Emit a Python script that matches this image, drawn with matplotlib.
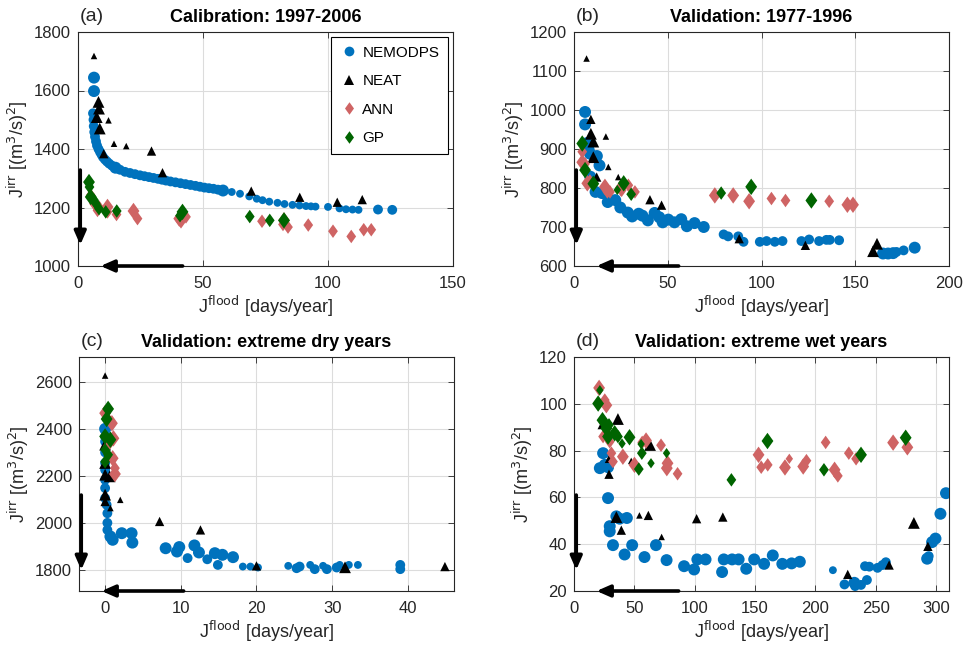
import matplotlib
matplotlib.use("Agg")
import matplotlib.pyplot as plt
from matplotlib.lines import Line2D
from matplotlib.path import Path
import numpy as np

plt.rcParams['font.family'] = ['Liberation Sans', 'DejaVu Sans']

# ---------------- data ----------------
# size codes: 1 small, 2 medium, 3 large
# Panel (a) Calibration 1997-2006
a_nemo_x = [6.4, 6.4, 6.0, 6.2, 6.3, 6.5, 6.8, 7.2, 7.6, 8.2, 8.8, 9.4, 10.0, 10.8, 11.6, 12.5, 13.6, 15.0,
            16.8, 18.8, 20.8, 22.8, 24.8, 26.6, 28.4, 30.2, 32.0, 33.6, 35.2, 37.0, 39.0, 41.0, 43.0, 45.0,
            47.0, 48.8, 50.6, 52.4, 54.2, 56.0, 58.0, 61.5, 64.8, 68.5, 71.5, 73.8, 76.5, 79.8, 82.6, 85.8,
            88.6, 91.2, 93.2, 95.0, 100.0, 104.6, 107.2, 109.8, 112.2, 120.0, 125.7]
a_nemo_y = [1644, 1598, 1522, 1500, 1478, 1458, 1442, 1426, 1412, 1400, 1390, 1381, 1372, 1364, 1357, 1350,
            1343, 1336, 1329, 1322, 1318, 1314, 1310, 1307, 1304, 1301, 1298, 1295, 1292, 1289, 1286, 1283,
            1280, 1277, 1274, 1271, 1268, 1266, 1264, 1261, 1258, 1253, 1247, 1238, 1230, 1225, 1220, 1216,
            1212, 1209, 1207, 1205, 1204, 1203, 1202, 1197, 1194, 1193, 1192, 1193, 1192]
a_nemo_c = [3, 3] + [2] * 15 + [3] + [2] * 22 + [3] + [1] * 18 + [2, 2]

a_neat_x = [6.4, 8.2, 8.4, 7.5, 8.7, 12.2, 14.4, 19.3, 29.4, 33.8, 10.3, 69.3, 88.7, 103.7, 113.7]
a_neat_y = [1718, 1561, 1538, 1509, 1470, 1498, 1418, 1410, 1393, 1319, 1384, 1256, 1235, 1218, 1227]
a_neat_c = [1, 3, 3, 3, 3, 1, 1, 1, 2, 2, 2, 2, 2, 2, 2]

a_ann_x = [5.1, 6.4, 7.8, 8.4, 11.8, 11.8, 15.4, 22.2, 23.8, 40.5, 41.2, 43.2, 73.6, 82.0, 84.0, 92.1,
           102.0, 109.3, 114.3, 117.3, 82.4]
a_ann_y = [1242, 1213, 1190, 1202, 1202, 1185, 1176, 1188, 1162, 1162, 1156, 1168, 1153, 1142, 1133, 1140,
           1119, 1101, 1124, 1124, 1156]
a_ann_c = [2, 2, 2, 2, 3, 2, 2, 3, 2, 3, 3, 2, 2, 2, 2, 2, 2, 2, 2, 2, 3]

a_gp_x = [4.4, 4.6, 5.1, 6.4, 7.1, 8.4, 11.1, 15.5, 41.8, 40.8, 68.7, 76.7, 82.4]
a_gp_y = [1287, 1270, 1236, 1225, 1214, 1196, 1185, 1188, 1185, 1172, 1169, 1156, 1156]
a_gp_c = [3, 2, 3, 2, 2, 2, 2, 2, 3, 2, 2, 2, 3]

# Panel (b) Validation 1977-1996
b_nemo_x = [5.9, 5.9, 6.8, 7.8, 8.5, 12.2, 13.6, 8.7, 11.5, 14.9, 18.0, 22.0, 24.7, 28.7, 31.0, 34.5, 36.5,
            39.4, 43.0, 45.5, 47.3, 50.3, 53.6, 57.2, 60.2, 64.3, 69.2, 79.8, 82.2, 87.6, 90.4, 99.1, 102.7,
            107.1, 111.2, 121.3, 125.4, 130.7, 134.6, 136.4, 141.4, 164.8, 167.5, 170.2, 172.0, 175.8, 181.7]
b_nemo_y = [995, 963, 915, 898, 888, 882, 858, 829, 790, 787, 764, 769, 750, 737, 727, 734, 729, 717, 736,
            725, 712, 719, 712, 720, 702, 710, 700, 681, 676, 676, 662, 662, 664, 662, 664, 664, 668, 664, 667,
            667, 666, 632, 632, 633, 636, 640, 647]
b_nemo_c = [3] * 27 + [2] * 14 + [3, 3, 3, 2, 2, 3]

b_neat_x = [6.7, 9.0, 9.0, 10.3, 10.3, 17.0, 12.1, 18.3, 23.6, 40.5, 46.7, 88.1, 123.4, 161.6, 159.5]
b_neat_y = [1132, 976, 939, 919, 879, 932, 828, 854, 828, 770, 756, 670, 653, 657, 638]
b_neat_c = [1, 2, 3, 3, 3, 1, 2, 1, 1, 2, 2, 2, 2, 3, 3]

b_ann_x = [4.4, 4.4, 5.9, 7.1, 8.5, 16.5, 17.8, 19.2, 24.9, 25.4, 29.0, 32.5, 75.1, 84.9, 93.4, 105.3,
           112.8, 136.1, 145.8, 148.8]
b_ann_y = [893, 866, 862, 812, 818, 803, 790, 790, 800, 794, 807, 790, 781, 781, 766, 773, 768, 766, 757, 757]
b_ann_c = [2, 3, 2, 3, 2, 3, 2, 2, 3, 2, 2, 2, 3, 3, 3, 2, 2, 2, 3, 3]

b_gp_x = [4.4, 5.9, 10.3, 23.1, 26.5, 30.5, 78.5, 94.5, 126.6]
b_gp_y = [914, 846, 811, 795, 812, 784, 787, 803, 768]
b_gp_c = [3, 3, 3, 1, 3, 2, 2, 3, 3]

# Panel (c) Validation: extreme dry years
c_nemo_x = [0.0, 0.0, 0.0, 0.0, 0.0, 0.0, 0.0, 0.0, 0.0, 0.2, 0.3, 0.3, 0.3, 0.7, 1.0, 2.2, 3.5, 3.6, 8.0,
            9.8, 9.5, 10.9, 11.8, 12.4, 13.5, 14.5, 14.9, 15.5, 16.9, 18.2, 19.2, 20.2, 24.2, 25.3, 25.7,
            27.1, 27.7, 28.8, 29.3, 30.6, 31.0, 32.2, 33.4, 39.0, 39.0]
c_nemo_y = [2400, 2367, 2346, 2300, 2255, 2226, 2183, 2148, 2105, 2077, 2041, 2000, 1970, 1942, 1928, 1956,
            1956, 1916, 1892, 1897, 1878, 1850, 1904, 1874, 1845, 1871, 1821, 1864, 1854, 1814, 1814, 1810,
            1817, 1807, 1814, 1821, 1803, 1817, 1803, 1810, 1821, 1821, 1821, 1821, 1803]
c_nemo_c = [3] + [2] * 12 + [3] * 8 + [2, 3, 3, 2, 3, 2, 3, 3, 1, 1, 1, 1, 2, 2, 1, 2, 1, 2, 2, 1, 1, 1, 2, 2]

c_neat_x = [0.0, 0.0, 0.0, 0.0, 0.6, 0.0, 0.0, 0.7, 2.0, 7.2, 12.6, 20.0, 31.7, 44.9]
c_neat_y = [2627, 2333, 2255, 2205, 2198, 2120, 2091, 2063, 2098, 2006, 1970, 1817, 1811, 1814]
c_neat_c = [1, 3, 3, 3, 3, 3, 2, 1, 1, 2, 2, 2, 3, 2]

c_ann_x = [0.0, 0.2, 0.9, 1.1, 0.4, 1.0, 1.3, 1.3]
c_ann_y = [2467, 2450, 2424, 2360, 2330, 2275, 2233, 2208]
c_ann_c = [3, 2, 3, 3, 2, 3, 2, 3]

c_gp_x = [0.4, 0.2, 0.0, 0.7, 0.0, 0.4, 0.0]
c_gp_y = [2485, 2442, 2368, 2354, 2311, 2290, 2260]
c_gp_c = [3, 3, 3, 3, 2, 2, 2]

# Panel (d) Validation: extreme wet years
d_nemo_x = [21.4, 24.1, 25.5, 28.2, 28.2, 29.6, 29.6, 35.1, 37.8, 43.8, 32.3, 41.9, 48.2, 58.4, 67.9, 76.7,
            91.2, 99.5, 102.2, 109.0, 122.7, 124.1, 131.0, 136.4, 142.7, 149.3, 157.5, 164.7, 172.6, 180.3,
            187.1, 214.5, 224.1, 232.3, 232.9, 237.8, 242.7, 241.1, 244.7, 251.5, 255.6, 258.4, 292.6, 293.9,
            296.7, 299.5, 303.6, 308.2]
d_nemo_y = [72.5, 78.9, 73.9, 72.9, 59.7, 47.7, 45.5, 51.9, 50.9, 51.2, 39.6, 35.6, 39.6, 34.5, 39.6, 33.2,
            30.6, 29.2, 33.5, 33.5, 28.1, 33.5, 33.5, 33.5, 29.5, 33.5, 31.6, 35.2, 31.6, 31.8, 32.5, 28.9,
            22.8, 23.5, 22.1, 22.6, 24.7, 30.6, 30.4, 29.9, 31.1, 32.3, 33.8, 34.9, 40.9, 42.4, 53.0, 61.8]
d_nemo_c = [3] * 31 + [1, 2, 3, 2, 2, 2, 2, 2, 2, 2, 2, 3, 2, 3, 3, 3, 3]

d_neat_x = [22.2, 36.4, 30.4, 29.0, 35.1, 39.2, 47.4, 54.2, 61.6, 63.0, 72.6, 101.6, 123.3, 226.8, 261.1,
            281.6, 293.2]
d_neat_y = [90.5, 93.5, 77.2, 69.9, 51.6, 46.0, 75.6, 52.3, 52.3, 82.4, 43.1, 50.9, 51.6, 27.1, 31.1, 49.1, 39.1]
d_neat_c = [1, 3, 3, 2, 3, 2, 1, 1, 2, 3, 1, 2, 2, 2, 2, 3, 2]

d_ann_x = [20.8, 25.5, 26.8, 24.1, 29.6, 31.0, 32.3, 40.5, 50.1, 59.7, 56.5, 72.1, 77.5, 76.9, 85.8, 152.9,
           155.1, 160.5, 174.8, 178.4, 189.9, 192.6, 208.5, 215.9, 218.6, 227.7, 233.7, 264.4, 276.2]
d_ann_y = [106.8, 101.6, 99.4, 86.0, 83.8, 78.9, 75.3, 77.4, 73.9, 84.3, 83.5, 82.3, 74.6, 72.5, 70.1, 78.2,
           72.9, 73.9, 72.8, 76.5, 73.2, 75.7, 83.5, 71.8, 69.2, 78.9, 76.5, 83.4, 81.4]
d_ann_c = [3, 2, 3, 2, 2, 2, 2, 3, 3, 3, 2, 2, 3, 3, 2, 3, 2, 2, 3, 1, 3, 2, 2, 3, 2, 2, 2, 3, 3]

d_gp_x = [20.0, 21.4, 23.6, 26.8, 28.2, 29.0, 33.7, 36.4, 46.0, 55.6, 56.2, 53.7, 63.8, 76.7, 39.8, 130.4,
          160.3, 207.1, 237.8, 274.8]
d_gp_y = [100.1, 105.8, 93.0, 89.5, 86.0, 91.0, 87.4, 86.0, 85.7, 82.8, 78.9, 72.1, 74.6, 78.9, 83.0, 67.5,
          84.1, 71.8, 78.2, 85.5]
d_gp_c = [3, 1, 3, 3, 3, 2, 3, 2, 3, 1, 2, 2, 1, 1, 1, 2, 3, 2, 3, 3]

titles = ['Calibration: 1997-2006', 'Validation: 1977-1996',
          'Validation: extreme dry years', 'Validation: extreme wet years']
panel_tags = ['(a)', '(b)', '(c)', '(d)']
series_names = ['NEMODPS', 'NEAT', 'ANN', 'GP']

# ---------------- style ----------------
C_BLUE = '#0072BD'
C_PINK = '#CF6464'
C_GREEN = '#006400'
AX_COL = '#262626'

DIAMOND = Path([(0, -1), (0.72, 0), (0, 1), (-0.72, 0), (0, -1)],
               [Path.MOVETO, Path.LINETO, Path.LINETO, Path.LINETO, Path.CLOSEPOLY])

styles = {
    'NEMODPS': dict(marker='o', color=C_BLUE, sizes={1: 32, 2: 50, 3: 74}),
    'NEAT': dict(marker='^', color='k', sizes={1: 22, 2: 45, 3: 72}),
    'ANN': dict(marker=DIAMOND, color=C_PINK, sizes={1: 55, 2: 95, 3: 140}),
    'GP': dict(marker=DIAMOND, color=C_GREEN, sizes={1: 55, 2: 95, 3: 140}),
}

panels = [
    dict(data={'NEMODPS': (a_nemo_x, a_nemo_y, a_nemo_c), 'NEAT': (a_neat_x, a_neat_y, a_neat_c),
               'ANN': (a_ann_x, a_ann_y, a_ann_c), 'GP': (a_gp_x, a_gp_y, a_gp_c)},
         xlim=(0, 150), ylim=(1000, 1800), xticks=[0, 50, 100, 150], yticks=[1000, 1200, 1400, 1600, 1800]),
    dict(data={'NEMODPS': (b_nemo_x, b_nemo_y, b_nemo_c), 'NEAT': (b_neat_x, b_neat_y, b_neat_c),
               'ANN': (b_ann_x, b_ann_y, b_ann_c), 'GP': (b_gp_x, b_gp_y, b_gp_c)},
         xlim=(0, 200), ylim=(600, 1200), xticks=[0, 50, 100, 150, 200],
         yticks=[600, 700, 800, 900, 1000, 1100, 1200]),
    dict(data={'NEMODPS': (c_nemo_x, c_nemo_y, c_nemo_c), 'NEAT': (c_neat_x, c_neat_y, c_neat_c),
               'ANN': (c_ann_x, c_ann_y, c_ann_c), 'GP': (c_gp_x, c_gp_y, c_gp_c)},
         xlim=(-3.45, 46.1), ylim=(1710, 2706), xticks=[0, 10, 20, 30, 40],
         yticks=[1800, 2000, 2200, 2400, 2600]),
    dict(data={'NEMODPS': (d_nemo_x, d_nemo_y, d_nemo_c), 'NEAT': (d_neat_x, d_neat_y, d_neat_c),
               'ANN': (d_ann_x, d_ann_y, d_ann_c), 'GP': (d_gp_x, d_gp_y, d_gp_c)},
         xlim=(0, 310.7), ylim=(20, 120), xticks=[0, 50, 100, 150, 200, 250, 300],
         yticks=[20, 40, 60, 80, 100, 120]),
]

W, H = 967, 649
fig = plt.figure(figsize=(W / 100, H / 100), dpi=100)
rects = [(78, 32, 375, 234), (574, 32, 375, 234), (79, 357, 375, 234), (574, 357, 375, 234)]

for i, (p, r) in enumerate(zip(panels, rects)):
    x0, y0, w, h = r
    ax = fig.add_axes([x0 / W, 1 - (y0 + h) / H, w / W, h / H])
    for name in series_names:
        xs, ys, cs = p['data'][name]
        st = styles[name]
        ax.scatter(xs, ys, s=[st['sizes'][c] for c in cs], marker=st['marker'], color=st['color'],
                   linewidths=0, zorder=3)
    ax.set_xlim(*p['xlim'])
    ax.set_ylim(*p['ylim'])
    ax.set_xticks(p['xticks'])
    ax.set_yticks(p['yticks'])
    ax.grid(True, color='#DCDCDC', linewidth=0.8, zorder=0)
    ax.set_axisbelow(True)
    ax.tick_params(direction='in', top=True, right=True, length=4, width=0.6,
                   labelsize=12, colors=AX_COL)
    ax.tick_params(axis='x', pad=7)
    ax.tick_params(axis='y', pad=5)
    for sp in ax.spines.values():
        sp.set_color(AX_COL)
        sp.set_linewidth(0.8)
    ax.set_title(titles[i], fontsize=13, fontweight='bold', pad=7, color='k')
    ax.text(0.004, 1.03, panel_tags[i], transform=ax.transAxes, fontsize=14, ha='left', va='bottom',
            color=AX_COL)
    ax.set_ylabel(r'J$^{\rm irr}$ [(m$^3$/s)$^2$]', fontsize=13, color=AX_COL, labelpad=3)
    ax.set_xlabel(r'J$^{\rm flood}$ [days/year]', fontsize=13, color=AX_COL, labelpad=2)
    # direction-of-preference arrows
    ax.annotate('', xy=(0.006, 0.09), xytext=(0.006, 0.41), xycoords='axes fraction',
                arrowprops=dict(arrowstyle='-|>,head_length=0.8,head_width=0.35', lw=2.6, color='k',
                                shrinkA=0, shrinkB=0), annotation_clip=False, zorder=6)
    ax.annotate('', xy=(0.06, 0.0), xytext=(0.279, 0.0), xycoords='axes fraction',
                arrowprops=dict(arrowstyle='-|>,head_length=0.8,head_width=0.35', lw=2.6, color='k',
                                shrinkA=0, shrinkB=0), annotation_clip=False, zorder=6)
    if i == 0:
        handles = [Line2D([], [], linestyle='none', marker=styles[n]['marker'], color=styles[n]['color'],
                          markersize=9 if n in ('ANN', 'GP') else 7, markeredgewidth=0) for n in series_names]
        leg = ax.legend(handles, series_names, loc='upper right', fontsize=11, frameon=True, fancybox=False,
                        edgecolor='k', framealpha=1, handletextpad=0.35, borderpad=0.6, labelspacing=0.95,
                        handlelength=1.1, borderaxespad=0.3)
        leg.get_frame().set_linewidth(0.8)

fig.savefig('out.png', dpi=100)
